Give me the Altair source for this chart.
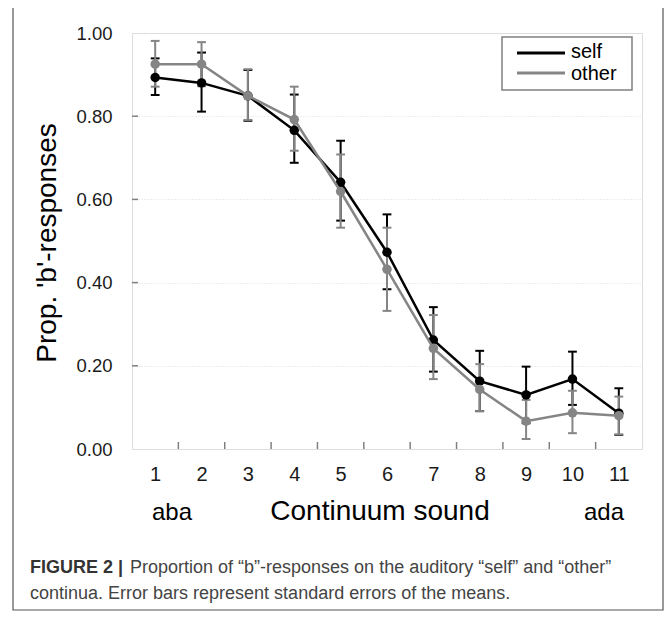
import altair as alt
import pandas as pd

# ---- data ----
STEPS = [1, 2, 3, 4, 5, 6, 7, 8, 9, 10, 11]
SELF_MEAN = [0.893, 0.880, 0.849, 0.766, 0.641, 0.473, 0.262, 0.163, 0.130, 0.168, 0.086]
SELF_HI = [0.939, 0.953, 0.911, 0.852, 0.741, 0.564, 0.341, 0.236, 0.198, 0.234, 0.146]
SELF_LO = [0.851, 0.811, 0.789, 0.688, 0.549, 0.384, 0.186, 0.091, 0.062, 0.106, 0.034]
OTHER_MEAN = [0.925, 0.925, 0.849, 0.792, 0.619, 0.432, 0.242, 0.143, 0.067, 0.087, 0.080]
OTHER_HI = [0.981, 0.978, 0.913, 0.871, 0.708, 0.532, 0.322, 0.204, 0.118, 0.140, 0.126]
OTHER_LO = [0.871, 0.872, 0.791, 0.717, 0.532, 0.332, 0.168, 0.091, 0.024, 0.038, 0.035]
Y_TICKS = [0.0, 0.2, 0.4, 0.6, 0.8, 1.0]
X_BOUNDS = [1.5, 2.5, 3.5, 4.5, 5.5, 6.5, 7.5, 8.5, 9.5, 10.5]

SERIES_COLORS = {"self": "#000000", "other": "#858585"}
FONT = "Liberation Sans"

W, H = 510, 416

xscale = alt.Scale(domain=[0.5, 11.5], nice=False, zero=False)
yscale = alt.Scale(domain=[0, 1], nice=False, zero=True)


def series_df(mean, lo, hi):
    return pd.DataFrame({"step": STEPS, "mean": mean, "lo": lo, "hi": hi})


one = pd.DataFrame({"k": [0]})

# base axes layer
base = alt.Chart(pd.DataFrame({"step": STEPS, "v": [0.5] * 11})).mark_point(opacity=0).encode(
    x=alt.X("step:Q", scale=xscale,
            axis=alt.Axis(values=STEPS, title=None, grid=False, ticks=False, domain=False,
                          labelFontSize=20, labelFont=FONT, labelColor="#1a1a1a",
                          labelPadding=15, format="d")),
    y=alt.Y("v:Q", scale=yscale,
            axis=alt.Axis(values=Y_TICKS, title=None, grid=True, gridColor="#dcdcdc",
                          gridDash=[1, 2], ticks=False, domain=False, format=".2f",
                          labelFontSize=18.5, labelFont=FONT, labelColor="#1a1a1a",
                          labelPadding=20)),
)

# inward tick marks
xticks = alt.Chart(pd.DataFrame({"b": X_BOUNDS})).mark_rule(color="#808080", strokeWidth=1.5).encode(
    x=alt.X("b:Q", scale=xscale), y=alt.value(H), y2=alt.value(H - 7)
)
yticks = alt.Chart(pd.DataFrame({"t": Y_TICKS[1:-1]})).mark_rule(color="#808080", strokeWidth=1.5).encode(
    y=alt.Y("t:Q", scale=yscale), x=alt.value(0), x2=alt.value(6)
)


def series_layers(df, color):
    c = alt.Chart(df)
    bar = c.mark_rule(color=color, strokeWidth=2).encode(
        x=alt.X("step:Q", scale=xscale), y=alt.Y("lo:Q", scale=yscale), y2="hi:Q"
    )
    caps = c.transform_calculate(xl="datum.step - 0.095", xr="datum.step + 0.095")
    cap_lo = caps.mark_rule(color=color, strokeWidth=2).encode(
        x=alt.X("xl:Q", scale=xscale), x2="xr:Q", y=alt.Y("lo:Q", scale=yscale)
    )
    cap_hi = caps.mark_rule(color=color, strokeWidth=2).encode(
        x=alt.X("xl:Q", scale=xscale), x2="xr:Q", y=alt.Y("hi:Q", scale=yscale)
    )
    line = c.mark_line(color=color, strokeWidth=2.5).encode(
        x=alt.X("step:Q", scale=xscale), y=alt.Y("mean:Q", scale=yscale)
    )
    pts = c.mark_circle(color=color, size=90, opacity=1).encode(
        x=alt.X("step:Q", scale=xscale), y=alt.Y("mean:Q", scale=yscale)
    )
    return [bar, cap_lo, cap_hi], [line, pts]


self_err, self_line = series_layers(series_df(SELF_MEAN, SELF_LO, SELF_HI), SERIES_COLORS["self"])
other_err, other_line = series_layers(series_df(OTHER_MEAN, OTHER_LO, OTHER_HI), SERIES_COLORS["other"])


def text(t, x, y, size, weight="normal", align="left", angle=0, font=FONT, color="#000000", baseline="alphabetic"):
    return alt.Chart(one).mark_text(
        text=t, fontSize=size, fontWeight=weight, align=align, angle=angle, font=font,
        color=color, baseline=baseline
    ).encode(x=alt.value(x), y=alt.value(y))


# legend (drawn manually)
legend_box = alt.Chart(one).mark_rect(fill="white", stroke="#808080", strokeWidth=1.5).encode(
    x=alt.value(370), x2=alt.value(500), y=alt.value(4), y2=alt.value(57)
)
leg_self = alt.Chart(one).mark_rule(color=SERIES_COLORS["self"], strokeWidth=3).encode(
    x=alt.value(385), x2=alt.value(433), y=alt.value(20)
)
leg_other = alt.Chart(one).mark_rule(color=SERIES_COLORS["other"], strokeWidth=3).encode(
    x=alt.value(385), x2=alt.value(433), y=alt.value(40)
)
leg_t1 = text("self", 439, 19, 20, baseline="middle")
leg_t2 = text("other", 439, 41, 20, baseline="middle")

# frame around the whole figure
frame = alt.Chart(one).mark_rect(fill=None, stroke="#555555", strokeWidth=1.2).encode(
    x=alt.value(-119), x2=alt.value(531), y=alt.value(-26), y2=alt.value(577)
)

ytitle = text("Prop. 'b'-responses", -76, 210, 28, align="center", angle=270)
aba = text("aba", 40, 487, 24, align="center")
cont = text("Continuum sound", 248, 487, 28, align="center")
ada = text("ada", 472, 487, 24, align="center")

cap1a = text("FIGURE 2 |", -102, 540, 18, weight="bold", color="#333333")
cap1b = text("Proportion of \u201cb\u201d-responses on the auditory \u201cself\u201d and \u201cother\u201d",
             -2, 540, 18, color="#444444")
cap2 = text("continua. Error bars represent standard errors of the means.",
            -102, 566, 18, color="#444444")

chart = alt.layer(
    frame, base, xticks, yticks,
    *self_err, *other_err, *self_line, *other_line,
    legend_box, leg_self, leg_other, leg_t1, leg_t2,
    ytitle, aba, cont, ada, cap1a, cap1b, cap2,
).properties(
    width=W, height=H,
    autosize=alt.AutoSizeParams(type="none"),
    padding={"left": 124, "top": 25, "right": 22, "bottom": 162},
).configure_view(
    stroke="#808080", strokeWidth=1.5
).configure(background="white")

chart.save("out.html", embed_options={"renderer": "svg", "actions": False})
